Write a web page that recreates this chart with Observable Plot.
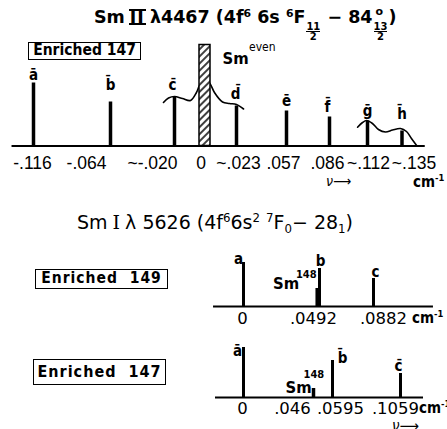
<!DOCTYPE html>
<html><head><meta charset="utf-8">
<script src="https://cdn.jsdelivr.net/npm/d3@7"></script>
<script src="https://cdn.jsdelivr.net/npm/@observablehq/plot@0.6"></script>
<style>
body{margin:0;background:#fff}
#c{position:relative;width:447px;height:429px;overflow:hidden;background:#fff;color:#000}
#c svg{position:absolute;left:0;top:0}
.tx{position:absolute;white-space:nowrap;font-family:"DejaVu Sans Condensed","DejaVu Sans",sans-serif;line-height:1;color:#000}
.reg{font-family:"DejaVu Sans",sans-serif}
.b{font-weight:bold}
.tx sup{font-size:0.62em;vertical-align:0.6em;line-height:0}
.tx sub{font-size:0.62em;vertical-align:-0.3em;line-height:0}
.fr{display:inline-block;font-size:10px;line-height:9px;vertical-align:-17px;text-align:center;margin:0 1px}
.fr i{display:block;font-style:normal}
.fr i:first-child{border-bottom:1.5px solid #000}
.stk{position:relative;display:inline-block}
.stk .o{position:absolute;left:3px;top:-3px;font-size:11px}
.rn{display:inline-block;border-top:2px solid #000;border-bottom:2px solid #000;line-height:12px;height:12px;padding:0 1px;margin:0 4px;font-family:"DejaVu Sans";letter-spacing:1px}
.rn1{display:inline-block;font-family:"DejaVu Serif";margin:0 5px}
.box{position:absolute;border:1.5px solid #000;box-sizing:border-box;font-family:"DejaVu Sans Condensed","DejaVu Sans",sans-serif;font-weight:bold;white-space:pre;display:flex;align-items:center;justify-content:center;line-height:1}
</style></head>
<body>
<div id="c">
  <div class="tx reg b" style="left:94px;top:9px;font-size:17.5px">Sm<span class="rn">II</span>λ4467 (4f<sup>6</sup> 6s <sup>6</sup>F<span class="fr"><i>11</i><i>2</i></span> − 84<span class="stk"><span class="fr"><i>13</i><i>2</i></span><span class="o">o</span></span>)</div>
  <div class="box" style="left:28px;top:42px;width:113px;height:18px;font-size:15.5px">Enriched 147</div>
  <div class="tx" style="left:326px;top:174px;font-size:14px;font-style:italic">ν⟶</div>
  <div class="tx b" style="left:413px;top:175px;font-size:15px">cm<sup>-1</sup></div>

  <div class="tx reg" style="left:77px;top:213px;font-size:19px">Sm<span class="rn1">I</span>λ 5626 (4f<sup>6</sup>6s<sup>2</sup> <sup>7</sup>F<sub>0</sub>− 28<sub>1</sub>)</div>
  <div class="box" style="left:35px;top:269px;width:133px;height:20px;font-size:15.5px;letter-spacing:1px">Enriched  149</div>
  <div class="tx b" style="left:412px;top:311px;font-size:15px">cm<sup>-1</sup></div>

  <div class="box" style="left:33px;top:359px;width:133px;height:26px;font-size:16px;letter-spacing:1px">Enriched  147</div>
  <div class="tx b" style="left:419px;top:401px;font-size:15px">cm<sup>-1</sup></div>
  <div class="tx" style="left:392px;top:419px;font-size:15px;font-style:italic">ν⟶</div>
</div>
<script>
// ===== Panel 1: Sm II λ4467, Enriched 147 =====
const p1Lines = ["a","b","c","d","e","f","g","h"];
const p1Shift = [-0.116,-0.064,-0.020,0.023,0.057,0.086,0.112,0.135];
const p1Int   = [63,44,49,40,35,29,25,15];
const p1EvenShift = [0];
const p1EvenInt   = [101];
const p1TickVal  = [-0.116,-0.064,-0.020,0,0.023,0.057,0.086,0.112,0.135];
const p1TickText = ["-.116","-.064","~-.020","0","~.023",".057",".086","~.112","~.135"];
// envelope curves (shift, intensity)
const p1EnvAx = [-0.0276,-0.0241,-0.020,-0.0148,-0.0095,-0.0056,-0.0036,0,0.0040,0.0069,0.0128,0.0179,0.023,0.0278];
const p1EnvAy = [43.5,48,49.5,47.5,45.5,53.5,60.5,67.5,61.5,53.5,44,42.5,41.5,37];
const p1EnvBx = [0.1052,0.1086,0.1113,0.1153,0.1193,0.124,0.1287,0.134,0.138,0.1413,0.145];
const p1EnvBy = [18.8,23.5,25.5,22.5,16.5,14,16,17.5,14.5,7.5,0];

// ===== Panel 2: Sm I λ5626, Enriched 149 =====
const p2Lines = ["a","b","c"];
const p2Shift = [0,0.0492,0.0882];
const p2Int   = [44,38,28];
const p2Sm148Shift = [0.0482];
const p2Sm148Int   = [18];
const p2TickVal  = [0,0.0492,0.0882];
const p2TickText = ["0",".0492",".0882"];

// ===== Panel 3: Sm I λ5626, Enriched 147 =====
const p3Lines = ["a","b","c"];
const p3Shift = [0,0.0595,0.1059];
const p3Int   = [50,37,24];
const p3Sm148Shift = [0.046];
const p3Sm148Int   = [9];
const p3TickVal  = [0,0.046,0.0595,0.1059];
const p3TickText = ["0",".046",".0595",".1059"];

const W = 447, H = 429;
const fCond = '"DejaVu Sans Condensed","DejaVu Sans",sans-serif';
const fReg = '"DejaVu Sans",sans-serif';
const fLib = '"Liberation Sans","DejaVu Sans Condensed",sans-serif';
const bar = "\u0304";
const rows = (xs, ys) => xs.map((x, i) => ({x, y: ys[i]}));

function panel(xDomain, xRange, base, marks) {
  return Plot.plot({
    width: W, height: H, margin: 0,
    x: {type: "linear", domain: xDomain, range: xRange, axis: null},
    y: {type: "linear", domain: [0, 100], range: [base, base - 100], axis: null},
    style: {background: "transparent", overflow: "visible", color: "black"},
    marks
  });
}
function labels(vals, texts, ys, dxs, dys, opts) {
  return vals.map((v, i) => Plot.text([{x: v, y: ys ? ys[i] : 0, t: texts[i]}],
    {x: "x", y: "y", text: "t", dx: dxs[i], dy: dys[i], lineAnchor: "bottom", fill: "black", ...opts}));
}

const hatch = () => {
  const g = d3.create("svg:defs");
  const p = g.append("pattern").attr("id", "hatch").attr("patternUnits", "userSpaceOnUse")
    .attr("width", 5).attr("height", 5).attr("patternTransform", "rotate(45)");
  p.append("rect").attr("width", 5).attr("height", 5).attr("fill", "white");
  p.append("line").attr("x1", 1).attr("x2", 1).attr("y1", 0).attr("y2", 5).attr("stroke", "black").attr("stroke-width", 1.5);
  return g.node();
};

const c = document.getElementById("c");

// Panel 1
const p1Rows = p1Lines.map((l, i) => ({l, x: p1Shift[i], y: p1Int[i]}));
const p1Even = p1EvenShift.map((x, i) => ({x, y: p1EvenInt[i]}));
c.appendChild(panel(
  p1TickVal, [33, 110, 174, 204.5, 236, 286, 329, 367, 401.5], 145.5,
  [
    hatch,
    Plot.ruleY([0], {x1: -0.1305, x2: 0.1505, stroke: "black", strokeWidth: 2}),
    Plot.line(rows(p1EnvAx, p1EnvAy), {x: "x", y: "y", curve: "catmull-rom", stroke: "black", strokeWidth: 1.6}),
    Plot.line(rows(p1EnvBx, p1EnvBy), {x: "x", y: "y", curve: "catmull-rom", stroke: "black", strokeWidth: 1.6}),
    Plot.ruleX(p1Rows, {x: "x", y1: 0, y2: "y", stroke: "black", strokeWidth: 3.5}),
    Plot.rect(p1Even, {x1: "x", x2: "x", y1: 0, y2: "y", insetLeft: -5.5, insetRight: -5.5, fill: "url(#hatch)", stroke: "black", strokeWidth: 1.5}),
    ...labels(p1Shift, p1Lines.map(l => l + bar), p1Int, [0,0,-2,-1,0,-2,0,0], [-3,-12,-7,-7,-5,-5,-5,-12], {fontFamily: fCond, fontSize: 15, fontWeight: "bold"}),
    ...labels(p1TickVal, p1TickText, null, [-1,-24,-22,-4,2,-3,-2,1,12], Array(9).fill(22.5), {fontFamily: fLib, fontSize: 17.5}),
    Plot.text(p1Even, {x: "x", y: "y", text: () => "Sm", dx: 17.5, dy: 19, textAnchor: "start", lineAnchor: "bottom", fontFamily: fCond, fontSize: 16.5, fontWeight: "bold", fill: "black"}),
    Plot.text(p1Even, {x: "x", y: "y", text: () => "even", dx: 44, dy: 6, textAnchor: "start", lineAnchor: "bottom", fontFamily: fCond, fontSize: 12, fill: "black"})
  ]));

// Panel 2
const p2Rows = p2Lines.map((l, i) => ({l, x: p2Shift[i], y: p2Int[i]}));
const p2Sm = p2Sm148Shift.map((x, i) => ({x, y: p2Sm148Int[i]}));
c.appendChild(panel(
  p2TickVal, [243, 319, 373], 306,
  [
    Plot.ruleY([0], {x1: -0.0194, x2: 0.1315, stroke: "black", strokeWidth: 2}),
    Plot.ruleX(p2Rows, {x: "x", y1: 0, y2: "y", stroke: "black", strokeWidth: 3}),
    Plot.ruleX(p2Sm, {x: "x", y1: 0, y2: "y", stroke: "black", strokeWidth: 5}),
    ...labels(p2Shift, p2Lines, p2Int, [-5,1,2], [1,-3,-2], {fontFamily: fCond, fontSize: 15, fontWeight: "bold"}),
    ...labels(p2TickVal, p2TickText, null, [-1,-6,10], [17,17,17], {fontFamily: fReg, fontSize: 16.5}),
    Plot.text(p2Sm, {x: "x", y: "y", text: () => "Sm", dx: -45, dy: 0, textAnchor: "start", lineAnchor: "bottom", fontFamily: fCond, fontSize: 16.5, fontWeight: "bold", fill: "black"}),
    Plot.text(p2Sm, {x: "x", y: "y", text: () => "148", dx: -22, dy: -11, textAnchor: "start", lineAnchor: "bottom", fontFamily: fCond, fontSize: 11, fontWeight: "bold", fill: "black"})
  ]));

// Panel 3
const p3Rows = p3Lines.map((l, i) => ({l, x: p3Shift[i], y: p3Int[i]}));
const p3Sm = p3Sm148Shift.map((x, i) => ({x, y: p3Sm148Int[i]}));
c.appendChild(panel(
  p3TickVal, [243, 313, 332, 400], 397,
  [
    Plot.ruleY([0], {x1: -0.0184, x2: 0.1216, stroke: "black", strokeWidth: 2}),
    Plot.ruleX(p3Rows, {x: "x", y1: 0, y2: "y", stroke: "black", strokeWidth: 3}),
    Plot.ruleX(p3Sm, {x: "x", y1: 0, y2: "y", stroke: "black", strokeWidth: 3.5}),
    ...labels(p3Shift, p3Lines.map(l => l + bar), p3Int, [-6,10,-2], [8,2,-3], {fontFamily: fCond, fontSize: 15, fontWeight: "bold"}),
    ...labels(p3TickVal, p3TickText, null, [-1,-21,8,-5], [16,16,16,16], {fontFamily: fReg, fontSize: 16.5}),
    Plot.text(p3Sm, {x: "x", y: "y", text: () => "Sm", dx: -28, dy: 4, textAnchor: "start", lineAnchor: "bottom", fontFamily: fCond, fontSize: 16.5, fontWeight: "bold", fill: "black"}),
    Plot.text(p3Sm, {x: "x", y: "y", text: () => "148", dx: -10, dy: -11, textAnchor: "start", lineAnchor: "bottom", fontFamily: fCond, fontSize: 11, fontWeight: "bold", fill: "black"})
  ]));
</script>
</body></html>
